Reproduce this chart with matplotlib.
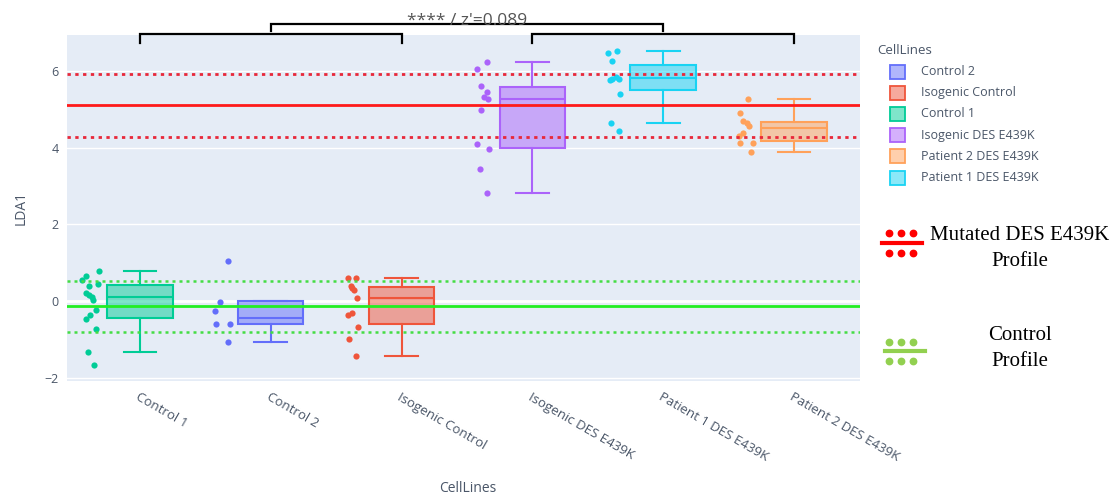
import matplotlib
matplotlib.use("Agg")
import matplotlib.pyplot as plt
from matplotlib.colors import to_rgba
from matplotlib.lines import Line2D
from matplotlib.patches import Rectangle

# categories in x order
categories = ["Control 1", "Control 2", "Isogenic Control",
              "Isogenic DES E439K", "Patient 1 DES E439K", "Patient 2 DES E439K"]
colors = ["#00CC96", "#636EFA", "#EF553B", "#AB63FA", "#19D3F3", "#FFA15A"]
legend_order = ["Control 2", "Isogenic Control", "Control 1",
                "Isogenic DES E439K", "Patient 2 DES E439K", "Patient 1 DES E439K"]

# box statistics
whislo = [-1.34, -1.07, -1.44, 2.82, 4.66, 3.89]
q1 = [-0.44, -0.61, -0.61, 3.99, 5.50, 4.18]
med = [0.10, -0.44, 0.07, 5.27, 5.82, 4.51]
q3 = [0.42, 0.00, 0.36, 5.59, 6.17, 4.69]
whishi = [0.78, 0.00, 0.61, 6.24, 6.52, 5.27]

# individual points (LDA1) and their horizontal jitter
pts_control1 = [0.78, 0.66, 0.55, 0.40, 0.44, 0.20, 0.11, 0.03, 0.16, -0.24, -0.37, -0.48, -0.74, -1.33, -1.67]
jit_control1 = [-0.31, -0.41, -0.44, -0.39, -0.32, -0.41, -0.37, -0.36, -0.39, -0.34, -0.38, -0.41, -0.34, -0.40, -0.35]
pts_control2 = [1.05, -0.02, -0.26, -0.60, -0.60, -1.08]
jit_control2 = [-0.33, -0.39, -0.43, -0.42, -0.31, -0.33]
pts_iso_ctrl = [0.61, 0.61, 0.39, 0.29, 0.33, 0.07, -0.37, -0.32, -0.69, -0.99, -1.44]
jit_iso_ctrl = [-0.41, -0.35, -0.39, -0.36, -0.38, -0.34, -0.41, -0.38, -0.33, -0.40, -0.35]
pts_iso_des = [6.24, 6.07, 5.63, 5.45, 5.34, 5.27, 5.00, 4.10, 3.97, 3.44, 2.82]
jit_iso_des = [-0.35, -0.42, -0.39, -0.35, -0.37, -0.34, -0.39, -0.42, -0.33, -0.40, -0.35]
pts_patient1 = [6.47, 6.52, 6.26, 5.78, 5.80, 5.86, 5.80, 5.41, 4.66, 4.45]
jit_patient1 = [-0.42, -0.35, -0.39, -0.41, -0.39, -0.36, -0.34, -0.33, -0.40, -0.34]
pts_patient2 = [5.27, 4.91, 4.71, 4.65, 4.56, 4.40, 4.30, 4.12, 4.12, 3.89]
jit_patient2 = [-0.35, -0.41, -0.39, -0.36, -0.34, -0.39, -0.42, -0.31, -0.41, -0.33]

points = [pts_control1, pts_control2, pts_iso_ctrl, pts_iso_des, pts_patient1, pts_patient2]
jitter = [jit_control1, jit_control2, jit_iso_ctrl, jit_iso_des, jit_patient1, jit_patient2]

# reference profiles: mean and band
mutated_mean, mutated_lo, mutated_hi = 5.12, 4.29, 5.93
control_mean, control_lo, control_hi = -0.14, -0.80, 0.53

W, H = 1116, 501
plt.rcParams["font.family"] = ["Open Sans", "DejaVu Sans"]
fig = plt.figure(figsize=(W / 100, H / 100), dpi=100)
ax = fig.add_axes([67 / W, 1 - 381 / H, (860 - 67) / W, (381 - 35) / H])
ax.set_facecolor("#E5ECF6")
for s in ax.spines.values():
    s.set_visible(False)

txt = "#4a5668"

stats = [dict(whislo=a, q1=b, med=c, q3=d, whishi=e, label=n)
         for a, b, c, d, e, n in zip(whislo, q1, med, q3, whishi, categories)]
bp = ax.bxp(stats, positions=range(len(categories)), widths=0.5, capwidths=0.25,
            patch_artist=True, showfliers=False, zorder=3)
for i, c in enumerate(colors):
    bp["boxes"][i].set_facecolor(to_rgba(c, 0.5))
    bp["boxes"][i].set_edgecolor(c)
    bp["boxes"][i].set_linewidth(1.5)
    bp["medians"][i].set_color(c)
    bp["medians"][i].set_linewidth(1.5)
    for k in (2 * i, 2 * i + 1):
        bp["whiskers"][k].set_color(c)
        bp["whiskers"][k].set_linewidth(1.5)
        bp["caps"][k].set_color(c)
        bp["caps"][k].set_linewidth(1.5)

for i, (vals, jit) in enumerate(zip(points, jitter)):
    ax.scatter([i + j for j in jit], vals, s=20, color=colors[i], linewidths=0, zorder=4)

# profile lines
ax.axhline(mutated_mean, color="#FF1A1A", lw=2, zorder=5)
for y in (mutated_lo, mutated_hi):
    ax.axhline(y, color="#E8283A", lw=2, ls=(0, (1.2, 1.6)), zorder=5)
ax.axhline(control_mean, color="#22EE22", lw=2, zorder=5)
for y in (control_lo, control_hi):
    ax.axhline(y, color="#44DD44", lw=1.8, ls=(0, (1.2, 1.6)), zorder=5)

ax.set_xlim(-0.558, 5.505)
ax.set_ylim(-2.09, 6.95)
ax.set_yticks([-2, 0, 2, 4, 6])
ax.set_yticklabels(["\u22122", "0", "2", "4", "6"])
ax.grid(axis="y", color="white", lw=1, zorder=0)
ax.axhline(0, color="white", lw=2, zorder=0.5)
ax.set_axisbelow(True)
ax.tick_params(axis="y", length=0, pad=6, labelsize=9, labelcolor=txt)
ax.set_xticks(range(len(categories)))
ax.set_xticklabels(categories, rotation=-30, ha="left", va="top",
                   rotation_mode="anchor", fontsize=9.5, color=txt)
ax.tick_params(axis="x", length=0, pad=7)
ax.set_ylabel("LDA1", fontsize=10, color=txt)
ax.yaxis.set_label_coords(-0.049, 0.5)
ax.set_xlabel("CellLines", fontsize=10, color=txt)
ax.xaxis.set_label_coords(0.505, -0.29)

# significance brackets
def bracket(x0, x1, y, drop):
    ax.plot([x0, x0, x1, x1], [y - drop, y, y, y - drop], color="black", lw=1.6,
            clip_on=False, zorder=6, solid_joinstyle="miter")

bracket(0, 2, 6.98, 0.23)
bracket(3, 5, 6.98, 0.23)
bracket(1, 4, 7.24, 0.18)
ax.text(2.5, 7.20, "**** / z'=0.089", ha="center", va="baseline", fontsize=12.5,
        color="#555555", clip_on=False, zorder=7)

# legend
def fx(x):
    return x / W

def fy(y):
    return 1 - y / H

fig.text(fx(877), fy(50), "CellLines", fontsize=9.5, color=txt, va="center")
for k, name in enumerate(legend_order):
    c = colors[categories.index(name)]
    yc = 71.5 + k * 21.2
    fig.add_artist(Rectangle((fx(890), fy(yc + 7)), 15 / W, 14 / H, transform=fig.transFigure,
                             facecolor=to_rgba(c, 0.5), edgecolor=c, lw=1.3))
    fig.text(fx(921), fy(yc), name, fontsize=9, color=txt, va="center")

# profile keys
def profile_key(yc, x0, x1, col, lines, text_y):
    fig.add_artist(Line2D([fx(x0), fx(x1)], [fy(yc), fy(yc)], color=col, lw=3,
                          transform=fig.transFigure))
    for dy in (-9.5, 10):
        fig.add_artist(Line2D([fx(889), fx(901), fx(913)], [fy(yc + dy)] * 3, ls="none",
                              marker="o", ms=4.6, color=col, transform=fig.transFigure))
    for t, y in zip(lines, text_y):
        fig.text(fx(1020), fy(y), t, ha="center", va="center", fontsize=15,
                 family=["Liberation Serif", "DejaVu Serif"], color="black")

profile_key(242.5, 882, 922, "#FF0000", ["Mutated DES E439K", "Profile"], [235, 261])
profile_key(351, 885, 925, "#92D050", ["Control", "Profile"], [336, 362])

fig.savefig("out.png", dpi=100)
